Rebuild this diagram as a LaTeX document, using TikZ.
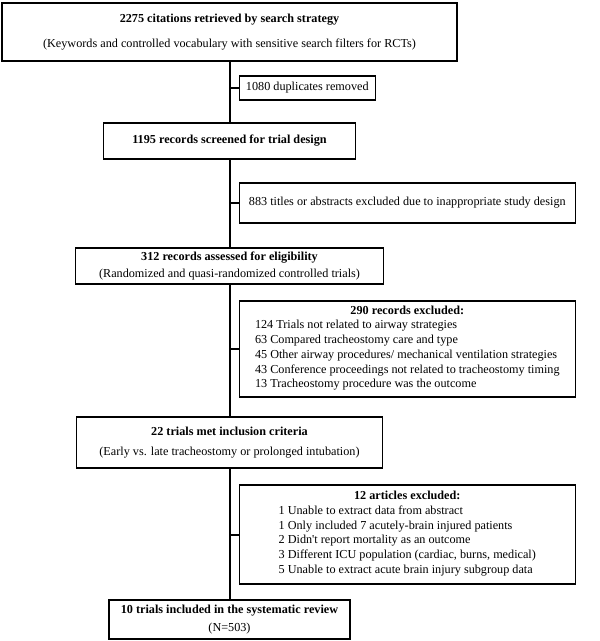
\documentclass[tikz,border=0pt]{standalone}
\usepackage{fontspec}
\setmainfont{Liberation Serif}
\begin{document}
\begin{tikzpicture}[x=1pt,y=-1pt,
  box/.style={draw,line width=1.2pt,inner sep=0pt,align=center,
    font=\fontsize{12.2}{14.7}\selectfont},
  link/.style={line width=2pt}]
\useasboundingbox (0,0) rectangle (600,641);
% main column
\node[box,minimum width=455pt,minimum height=58pt] (b1) at (229.5,32)
  {\textbf{2275 citations retrieved by search strategy}\\[10pt]
   (Keywords and controlled vocabulary with sensitive search filters for RCTs)};
\node[box,minimum width=252pt,minimum height=36pt] (b2) at (229.5,141)
  {\textbf{1195 records screened for trial design}};
\node[box,minimum width=308pt,minimum height=36pt] (b3) at (229.5,266)
  {\textbf{312 records assessed for eligibility}\\[2pt]
   (Randomized and quasi-randomized controlled trials)};
\node[box,minimum width=306pt,minimum height=51pt] (b4) at (229.5,442.5)
  {\textbf{22 trials met inclusion criteria}\\[4.5pt]
   (Early vs. late tracheostomy or prolonged intubation)};
\node[box,minimum width=241pt,minimum height=39pt] (b5) at (229.5,619.5)
  {\textbf{10 trials included in the systematic review}\\[4pt]
   (N=503)};
% exclusion boxes
\node[box,anchor=west,minimum width=136pt,minimum height=24pt] (e1) at (238.7,88)
  {1080 duplicates removed};
\node[box,anchor=west,minimum width=336pt,minimum height=40pt] (e2) at (238.7,203)
  {883 titles or abstracts excluded due to inappropriate study design};
\node[box,anchor=west,minimum width=336pt,minimum height=96pt] (e3) at (238.7,349)
  {\textbf{290 records excluded:}\\
   \begin{tabular}[t]{@{}l@{}}
   124 Trials not related to airway strategies\\
   63 Compared tracheostomy care and type\\
   45 Other airway procedures/ mechanical ventilation strategies\\
   43 Conference proceedings not related to tracheostomy timing\\
   13 Tracheostomy procedure was the outcome
   \end{tabular}};
\node[box,anchor=west,minimum width=336pt,minimum height=99pt] (e4) at (238.7,534.5)
  {\textbf{12 articles excluded:}\\
   \begin{tabular}[t]{@{}l@{}}
   1 Unable to extract data from abstract\\
   1 Only included 7 acutely-brain injured patients\\
   2 Didn\textquotesingle t report mortality as an outcome\\
   3 Different ICU population (cardiac, burns, medical)\\
   5 Unable to extract acute brain injury subgroup data
   \end{tabular}};
% connectors
\draw[link] (b1.south) -- (b2.north);
\draw[link] (b2.south) -- (b3.north);
\draw[link] (b3.south) -- (b4.north);
\draw[link] (b4.south) -- (b5.north);
\draw[link] (e1.west) -- (e1.west -| b1.south);
\draw[link] (e2.west) -- (e2.west -| b1.south);
\draw[link] (e3.west) -- (e3.west -| b1.south);
\draw[link] (e4.west) -- (e4.west -| b1.south);
\end{tikzpicture}
\end{document}
